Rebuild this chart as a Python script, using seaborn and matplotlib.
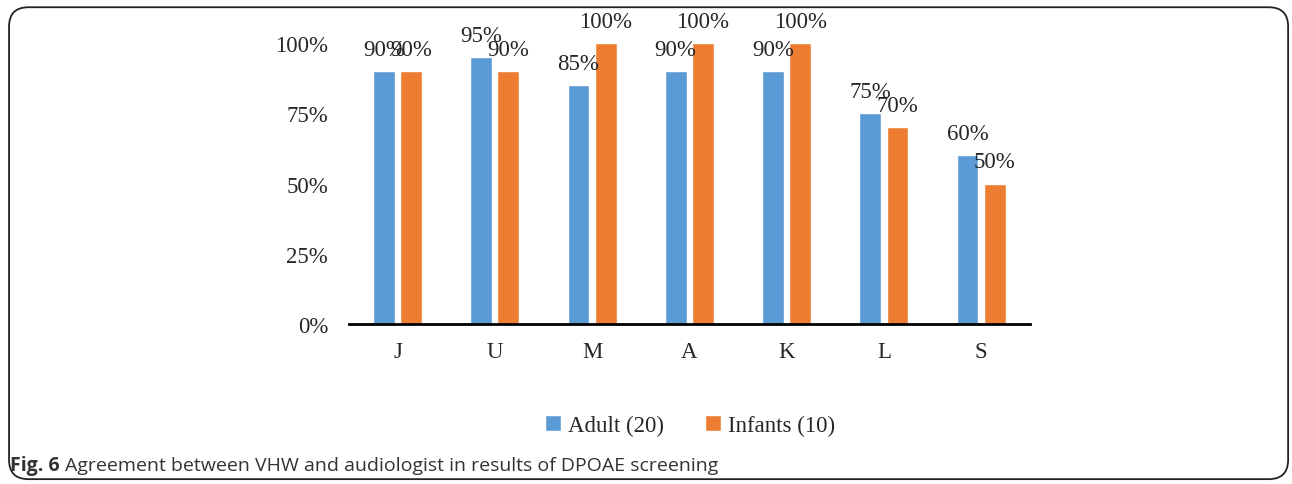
import pandas as pd
import matplotlib.pyplot as plt
import seaborn as sns
from matplotlib.patches import FancyBboxPatch

# data
categories = ['J', 'U', 'M', 'A', 'K', 'L', 'S']
adult = [90, 95, 85, 90, 90, 75, 60]
infants = [90, 90, 100, 100, 100, 70, 50]
series = ['Adult (20)', 'Infants (10)']
colors = ['#5B9BD5', '#ED7D31']

df = pd.DataFrame({'cat': categories * 2,
                   'value': adult + infants,
                   'group': [series[0]] * len(categories) + [series[1]] * len(categories)})

sns.set_style('white')
plt.rcParams['font.family'] = ['Liberation Serif', 'DejaVu Serif']

fig = plt.figure(figsize=(12.92, 4.85), dpi=100)
ax = fig.add_axes([0.270, 0.330, 0.527, 0.579])

sns.barplot(data=df, x='cat', y='value', hue='group', palette=colors,
            width=0.56, gap=0.2, ax=ax, saturation=1, legend=True)

for cont in ax.containers:
    ax.bar_label(cont, fmt='%g%%', padding=8, fontsize=16.5)

ax.set_ylim(0, 100)
ax.set_xlim(-0.5, 6.5)
ax.set_yticks([0, 25, 50, 75, 100])
ax.set_yticklabels(['0%', '25%', '50%', '75%', '100%'])
ax.tick_params(axis='both', length=0, labelsize=16.5)
ax.tick_params(axis='y', pad=15)
ax.tick_params(axis='x', pad=12)
ax.set_xlabel('')
ax.set_ylabel('')
for s in ['top', 'right', 'left']:
    ax.spines[s].set_visible(False)
ax.spines['bottom'].set_color('black')
ax.spines['bottom'].set_linewidth(2)

h, l = ax.get_legend_handles_labels()
ax.legend(h, l, loc='center', bbox_to_anchor=(0.534, 0.12), bbox_transform=fig.transFigure,
          ncol=2, frameon=False, fontsize=16.5, handlelength=0.7, handleheight=0.7,
          handletextpad=0.3, columnspacing=1.8)

# caption
t1 = fig.text(0.008, 0.039, 'Fig. 6', fontsize=14, fontweight='bold', family='Open Sans',
              color='#333333', va='center')
r = fig.canvas.get_renderer()
x2 = (t1.get_window_extent(renderer=r).x1 + 5) / fig.bbox.width
fig.text(x2, 0.039, 'Agreement between VHW and audiologist in results of DPOAE screening',
         fontsize=14, family='Open Sans', color='#333333', va='center')

# rounded frame
frame = FancyBboxPatch((0.007, 0.01), 0.990, 0.973, boxstyle='round,pad=0,rounding_size=0.015',
                       transform=fig.transFigure, fill=False, edgecolor='#222222',
                       linewidth=1.3, mutation_aspect=2.66)
fig.patches.append(frame)

fig.savefig('out.png', dpi=100)
